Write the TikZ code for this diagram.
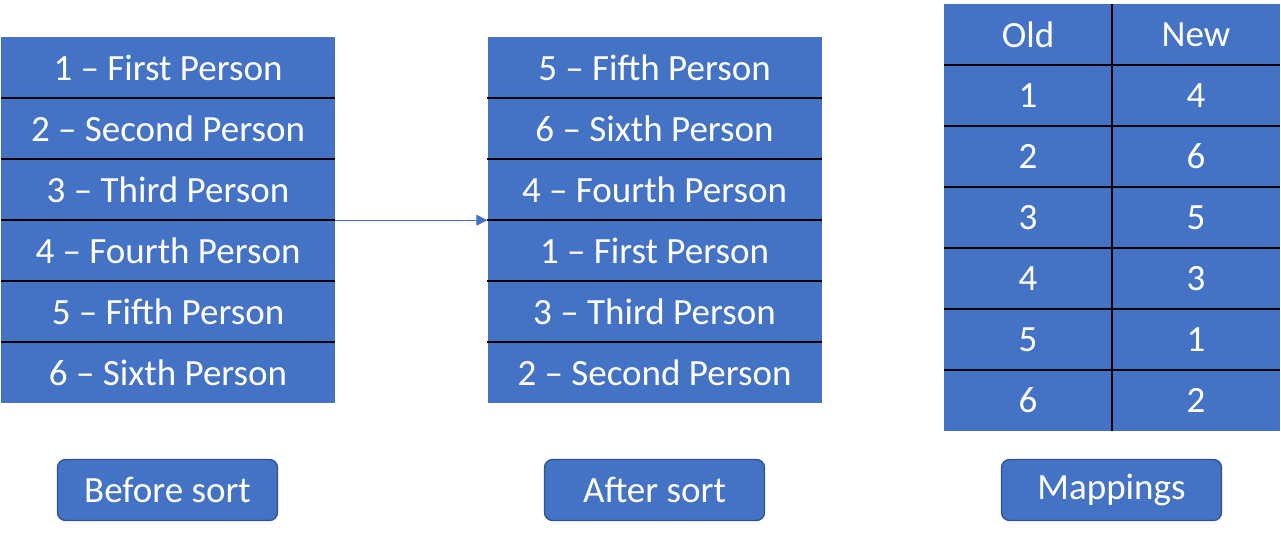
\documentclass[tikz,border=0pt]{standalone}
\usepackage{fontspec}
\setmainfont{Carlito}
\usetikzlibrary{arrows.meta}
\definecolor{cellblue}{HTML}{4472C4}
\definecolor{edgeblue}{HTML}{2F528F}
\begin{document}
\begin{tikzpicture}[x=1pt,y=-1pt,
  cell/.style={fill=cellblue, text=white, inner sep=0pt, minimum height=61pt, font=\fontsize{37}{42}\selectfont},
  rowcell/.style={cell, minimum width=334pt},
  mapcell/.style={cell, minimum width=168pt},
  sep/.style={black, line width=2pt},
  btn/.style={fill=cellblue, draw=edgeblue, line width=1.3pt, rounded corners=8pt, text=white, inner sep=0pt, minimum width=220pt, minimum height=61pt, font=\fontsize{37}{42}\selectfont},
  link/.style={cellblue, line width=1pt, -{Triangle[length=11pt,width=11pt]}}]
\useasboundingbox (0,0) rectangle (1281,536);
% left table
\foreach \t [count=\i] in {1 -- First Person, 2 -- Second Person, 3 -- Third Person, 4 -- Fourth Person, 5 -- Fifth Person, 6 -- Sixth Person}{
  \node[rowcell] (L\i) at (168, {37+61*(\i-1)+30.5}) {\t};
}
\foreach \t [count=\i] in {5 -- Fifth Person, 6 -- Sixth Person, 4 -- Fourth Person, 1 -- First Person, 3 -- Third Person, 2 -- Second Person}{
  \node[rowcell] (M\i) at (654.5, {37+61*(\i-1)+30.5}) {\t};
}
\foreach \i in {1,...,5}{
  \draw[sep] (L\i.south west) -- (L\i.south east);
  \draw[sep] (M\i.south west) -- (M\i.south east);
}
% mapping table
\foreach \a/\b [count=\i] in {Old/New,1/4,2/6,3/5,4/3,5/1,6/2}{
  \node[mapcell] (A\i) at (1028, {4+61*(\i-1)+30.5}) {\a};
  \node[mapcell] (B\i) at (1196, {4+61*(\i-1)+30.5}) {\b};
}
\foreach \i in {1,...,6}{
  \draw[sep] (A\i.south west) -- (B\i.south east);
}
\draw[sep] (A1.north east) -- (A7.south east);
% arrow
\draw[link] (L3.south east) -- (M3.south west);
% buttons
\node[btn] (b1) at (167.5,490) {Before sort};
\node[btn] (b2) at (654.5,490) {After sort};
\node[btn] (b3) at (1111.5,490) {Mappings};
\end{tikzpicture}
\end{document}
